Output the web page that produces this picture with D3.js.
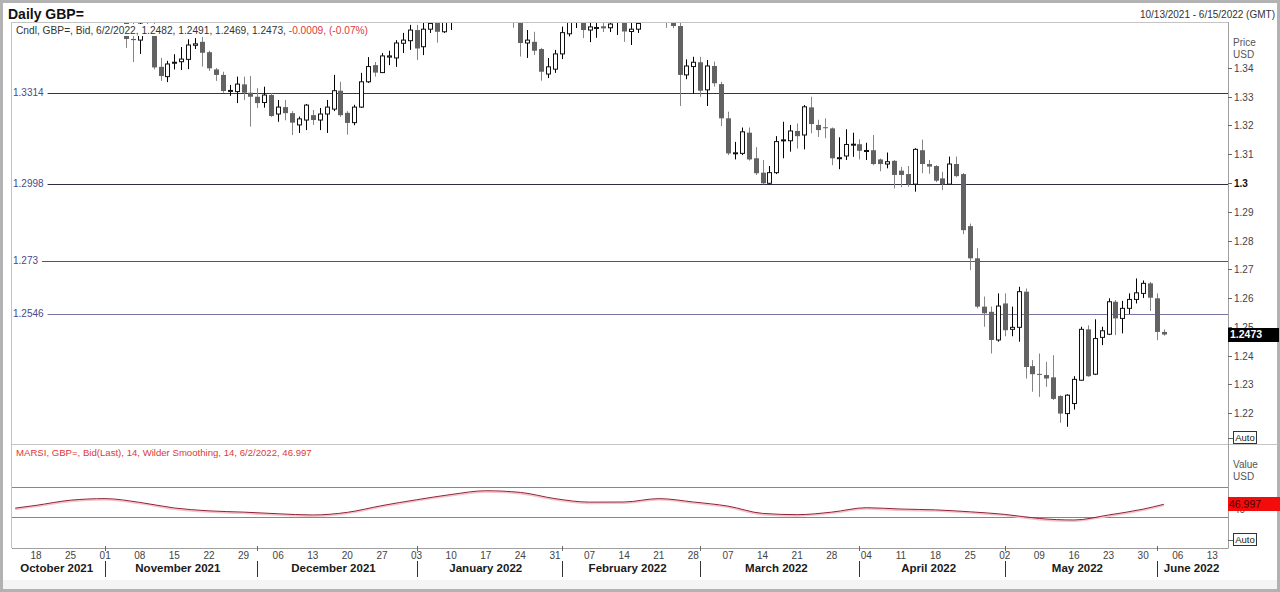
<!DOCTYPE html>
<html>
<head>
<meta charset="utf-8">
<script src="https://cdn.jsdelivr.net/npm/d3@7"></script>
<style>
  body { margin: 0; background: #fff; }
  svg { display: block; font-family: "Liberation Sans", Arial, sans-serif; }
</style>
</head>
<body>
<div id="chart"></div>
<script>
// daily candles, GBP= bid
const dates = [
  "2021-11-04","2021-11-05","2021-11-08","2021-11-09","2021-11-10","2021-11-11","2021-11-12",
  "2021-11-15","2021-11-16","2021-11-17","2021-11-18","2021-11-19","2021-11-22","2021-11-23",
  "2021-11-24","2021-11-25","2021-11-26","2021-11-29","2021-11-30",
  "2021-12-01","2021-12-02","2021-12-03","2021-12-06","2021-12-07","2021-12-08","2021-12-09",
  "2021-12-10","2021-12-13","2021-12-14","2021-12-15","2021-12-16","2021-12-17","2021-12-20",
  "2021-12-21","2021-12-22","2021-12-23","2021-12-24","2021-12-27","2021-12-28","2021-12-29",
  "2021-12-30","2021-12-31",
  "2022-01-03","2022-01-04","2022-01-05","2022-01-06","2022-01-07","2022-01-10","2022-01-11",
  "2022-01-12","2022-01-13","2022-01-14","2022-01-17","2022-01-18","2022-01-19","2022-01-20",
  "2022-01-21","2022-01-24","2022-01-25","2022-01-26","2022-01-27","2022-01-28","2022-01-31",
  "2022-02-01","2022-02-02","2022-02-03","2022-02-04","2022-02-07","2022-02-08","2022-02-09",
  "2022-02-10","2022-02-11","2022-02-14","2022-02-15","2022-02-16","2022-02-17","2022-02-18",
  "2022-02-21","2022-02-22","2022-02-23","2022-02-24","2022-02-25","2022-02-28",
  "2022-03-01","2022-03-02","2022-03-03","2022-03-04","2022-03-07","2022-03-08","2022-03-09",
  "2022-03-10","2022-03-11","2022-03-14","2022-03-15","2022-03-16","2022-03-17","2022-03-18",
  "2022-03-21","2022-03-22","2022-03-23","2022-03-24","2022-03-25","2022-03-28","2022-03-29",
  "2022-03-30","2022-03-31",
  "2022-04-01","2022-04-04","2022-04-05","2022-04-06","2022-04-07","2022-04-08","2022-04-11",
  "2022-04-12","2022-04-13","2022-04-14","2022-04-15","2022-04-18","2022-04-19","2022-04-20",
  "2022-04-21","2022-04-22","2022-04-25","2022-04-26","2022-04-27","2022-04-28","2022-04-29",
  "2022-05-02","2022-05-03","2022-05-04","2022-05-05","2022-05-06","2022-05-09","2022-05-10",
  "2022-05-11","2022-05-12","2022-05-13","2022-05-16","2022-05-17","2022-05-18","2022-05-19",
  "2022-05-20","2022-05-23","2022-05-24","2022-05-25","2022-05-26","2022-05-27","2022-05-30",
  "2022-05-31","2022-06-01","2022-06-02"
];
const opens = [
  1.3660,1.3501,1.3497,1.3553,1.3548,1.3404,1.3370,1.3418,1.3422,1.3430,1.3479,1.3491,1.3455,1.3395,
  1.3376,1.3321,1.3318,1.3343,1.3314,
  1.3300,1.3280,1.3306,1.3240,1.3264,1.3243,1.3202,1.3219,1.3236,1.3219,1.3240,1.3257,1.3321,1.3244,
  1.3210,1.3264,1.3352,1.3410,1.3384,1.3438,1.3435,1.3486,1.3495,
  1.3532,1.3474,1.3535,1.3560,1.3526,1.3590,1.3598,1.3632,1.3710,1.3715,1.3680,1.3645,1.3612,1.3620,
  1.3600,1.3560,1.3487,1.3491,1.3466,1.3379,1.3396,
  1.3449,1.3519,1.3570,1.3595,1.3532,1.3540,1.3545,1.3540,1.3560,1.3560,1.3527,1.3535,1.3580,1.3615,
  1.3590,1.3595,1.3560,1.3546,1.3376,1.3405,
  1.3420,1.3324,1.3407,1.3344,1.3225,1.3103,1.3103,1.3175,1.3086,1.3036,1.2999,1.3036,1.3148,1.3147,
  1.3181,1.3167,1.3263,1.3202,1.3194,1.3190,1.3086,1.3094,1.3134,
  1.3135,1.3112,1.3114,1.3082,1.3066,1.3077,1.3043,1.3031,1.2996,1.3114,1.3066,1.3059,1.3016,1.2996,
  1.3066,1.3031,1.2850,1.2738,1.2570,1.2552,1.2454,
  1.2581,1.2491,1.2498,1.2622,1.2363,1.2336,1.2332,1.2324,1.2259,1.2198,1.2233,1.2314,1.2491,1.2335,
  1.2463,1.2474,1.2587,1.2529,1.2564,1.2595,1.2616,1.2651,1.2599,1.2482
];
const highs = [
  1.3690,1.3560,1.3575,1.3605,1.3570,1.3435,1.3425,1.3448,1.3473,1.3500,1.3504,1.3508,1.3460,1.3400,
  1.3387,1.3341,1.3370,1.3370,1.3372,
  1.3330,1.3335,1.3312,1.3289,1.3289,1.3250,1.3231,1.3275,1.3254,1.3261,1.3289,1.3376,1.3352,1.3250,
  1.3272,1.3383,1.3438,1.3421,1.3452,1.3460,1.3497,1.3522,1.3550,
  1.3550,1.3570,1.3580,1.3580,1.3600,1.3620,1.3640,1.3715,1.3748,1.3720,1.3690,1.3660,1.3640,1.3630,
  1.3615,1.3580,1.3532,1.3526,1.3470,1.3435,1.3463,
  1.3544,1.3580,1.3630,1.3620,1.3570,1.3565,1.3560,1.3580,1.3590,1.3575,1.3565,1.3590,1.3640,1.3630,
  1.3640,1.3610,1.3600,1.3560,1.3430,1.3439,
  1.3439,1.3428,1.3422,1.3352,1.3248,1.3143,1.3193,1.3193,1.3125,1.3080,1.3059,1.3163,1.3213,1.3202,
  1.3207,1.3271,1.3300,1.3220,1.3225,1.3193,1.3159,1.3187,1.3175,
  1.3152,1.3140,1.3167,1.3085,1.3106,1.3080,1.3056,1.3059,1.3121,1.3151,1.3080,1.3062,1.3039,1.3092,
  1.3092,1.3035,1.2859,1.2773,1.2605,1.2570,1.2616,
  1.2616,1.2570,1.2639,1.2633,1.2384,1.2407,1.2378,1.2401,1.2262,1.2265,1.2328,1.2500,1.2505,1.2526,
  1.2500,1.2599,1.2593,1.2590,1.2616,1.2668,1.2661,1.2656,1.2616,1.2491
];
const lows = [
  1.3470,1.3421,1.3449,1.3515,1.3395,1.3355,1.3351,1.3395,1.3393,1.3396,1.3466,1.3405,1.3390,1.3355,
  1.3314,1.3303,1.3278,1.3289,1.3196,
  1.3261,1.3262,1.3230,1.3213,1.3218,1.3167,1.3174,1.3184,1.3202,1.3184,1.3174,1.3250,1.3230,1.3168,
  1.3201,1.3261,1.3348,1.3370,1.3383,1.3410,1.3404,1.3452,1.3463,
  1.3428,1.3445,1.3522,1.3488,1.3522,1.3532,1.3570,1.3620,1.3690,1.3660,1.3630,1.3590,1.3590,1.3580,
  1.3540,1.3440,1.3435,1.3445,1.3356,1.3365,1.3383,
  1.3431,1.3510,1.3539,1.3504,1.3490,1.3505,1.3525,1.3525,1.3515,1.3491,1.3480,1.3522,1.3570,1.3575,
  1.3570,1.3540,1.3538,1.3268,1.3361,1.3310,
  1.3300,1.3268,1.3335,1.3198,1.3097,1.3082,1.3097,1.3078,1.3028,1.2995,1.2995,1.3031,1.3086,1.3109,
  1.3120,1.3117,1.3173,1.3160,1.3156,1.3062,1.3048,1.3080,1.3091,
  1.3082,1.3080,1.3062,1.3041,1.3051,1.2981,1.2985,1.2987,1.2970,1.3034,1.3032,1.3003,1.2975,1.2993,
  1.3020,1.2822,1.2697,1.2564,1.2500,1.2407,1.2448,
  1.2467,1.2467,1.2448,1.2320,1.2274,1.2256,1.2291,1.2245,1.2166,1.2152,1.2212,1.2313,1.2326,1.2332,
  1.2436,1.2471,1.2471,1.2477,1.2544,1.2581,1.2600,1.2555,1.2453,1.2469
];
const closes = [
  1.3501,1.3497,1.3553,1.3548,1.3402,1.3372,1.3414,1.3420,1.3431,1.3480,1.3484,1.3453,1.3399,1.3376,
  1.3320,1.3322,1.3344,1.3314,1.3300,
  1.3278,1.3306,1.3233,1.3264,1.3243,1.3210,1.3223,1.3271,1.3219,1.3240,1.3264,1.3321,1.3236,1.3209,
  1.3264,1.3352,1.3405,1.3384,1.3442,1.3442,1.3487,1.3497,1.3532,
  1.3468,1.3535,1.3555,1.3526,1.3590,1.3598,1.3632,1.3710,1.3715,1.3680,1.3645,1.3612,1.3620,1.3600,
  1.3560,1.3487,1.3497,1.3460,1.3387,1.3404,1.3449,
  1.3523,1.3570,1.3595,1.3532,1.3543,1.3541,1.3538,1.3553,1.3565,1.3527,1.3535,1.3555,1.3615,1.3590,
  1.3595,1.3575,1.3546,1.3376,1.3407,1.3420,
  1.3321,1.3407,1.3347,1.3225,1.3103,1.3105,1.3178,1.3082,1.3034,1.2999,1.3036,1.3144,1.3150,1.3181,
  1.3163,1.3265,1.3205,1.3184,1.3192,1.3086,1.3088,1.3134,1.3135,
  1.3112,1.3113,1.3066,1.3066,1.3074,1.3028,1.3028,1.2996,1.3117,1.3066,1.3057,1.3008,1.2996,1.3066,
  1.3024,1.2836,1.2738,1.2570,1.2547,1.2454,1.2572,
  1.2488,1.2498,1.2622,1.2360,1.2335,1.2335,1.2320,1.2249,1.2198,1.2262,1.2317,1.2491,1.2328,1.2459,
  1.2486,1.2587,1.2529,1.2564,1.2595,1.2618,1.2651,1.2601,1.2482,1.2473
];

// MARSI (14, Wilder smoothing), weekly readings
const rsiDates = [
  "2021-10-13","2021-10-18","2021-10-25","2021-11-01","2021-11-08","2021-11-15","2021-11-22",
  "2021-11-29","2021-12-06","2021-12-13","2021-12-20","2021-12-27","2022-01-03","2022-01-10",
  "2022-01-17","2022-01-24","2022-01-31","2022-02-07","2022-02-14","2022-02-21","2022-02-28",
  "2022-03-07","2022-03-14","2022-03-21","2022-03-28","2022-04-04","2022-04-11","2022-04-18",
  "2022-04-25","2022-05-02","2022-05-09","2022-05-16","2022-05-23","2022-05-30","2022-06-02"
];
const rsiValues = [
  41.8,45.5,52.4,54.5,49.5,42.0,38.2,36.5,34.3,32.7,36.2,45.2,53.0,60.0,65.0,62.8,54.5,49.8,
  50.0,54.5,50.0,44.5,34.8,33.1,36.5,42.4,40.6,39.5,36.9,33.5,28.0,26.0,32.7,40.5,46.997
];

const levels = [1.3314, 1.2998, 1.273, 1.2546];
const levelColors = ["#34344e", "#2c2c44", "#54546e", "#7676a0"];
const priceTicks = [1.22, 1.23, 1.24, 1.25, 1.26, 1.27, 1.28, 1.29, 1.3, 1.31, 1.32, 1.33, 1.34];
const monthNames = ["October 2021", "November 2021", "December 2021", "January 2022", "February 2022",
  "March 2022", "April 2022", "May 2022", "June 2022"];

const width = 1280, height = 592;
const plotLeft = 12, plotRight = 1228;
const priceTop = 23, priceBottom = 445, rsiBottom = 548;

const svg = d3.select("#chart")
  .append("svg")
    .attr("width", width)
    .attr("height", height);

const fmtDay = d3.timeFormat("%Y-%m-%d");
const calendar = d3.timeDay.range(new Date(2021, 9, 13), new Date(2022, 5, 16))
  .filter(d => d.getDay() !== 0 && d.getDay() !== 6);

const x = d3.scalePoint()
  .domain(calendar.map(fmtDay))
  .range([15.2, 1226.2]);

const y = d3.scaleLinear()
  .domain([1.22, 1.34])
  .range([413, 68]);

const rsiY = d3.scaleLinear()
  .domain([30, 70])
  .range([517, 487]);

// outer frame and panel borders
svg.append("rect")
  .attr("x", 1.5).attr("y", 1.5)
  .attr("width", width - 3).attr("height", height - 3)
  .attr("fill", "none").attr("stroke", "#b2b2b2").attr("stroke-width", 3);
svg.append("rect")
  .attr("x", 3).attr("y", 580)
  .attr("width", width - 6).attr("height", 9)
  .attr("fill", "#f4f4f4");

const frame = [
  [plotLeft, priceTop - 0.5, plotRight, priceTop - 0.5, "#c4c4c4"],
  [plotLeft - 0.5, priceTop - 1, plotLeft - 0.5, rsiBottom, "#c4c4c4"],
  [plotLeft, priceBottom - 0.5, width - 2, priceBottom - 0.5, "#c4c4c4"],
  [plotLeft, rsiBottom + 0.5, plotRight, rsiBottom + 0.5, "#a0a0a0"],
  [plotRight + 0.5, priceTop - 1, plotRight + 0.5, rsiBottom + 0.5, "#a0a0a0"]
];
svg.selectAll(".frame")
  .data(frame)
  .join("line")
    .attr("class", "frame")
    .attr("x1", d => d[0]).attr("y1", d => d[1])
    .attr("x2", d => d[2]).attr("y2", d => d[3])
    .attr("stroke", d => d[4]);

svg.append("text")
  .attr("x", 8).attr("y", 19)
  .style("font-size", "14px").style("font-weight", "bold")
  .attr("fill", "#111")
  .text("Daily GBP=");
svg.append("text")
  .attr("x", 1275).attr("y", 18)
  .style("font-size", "10px").style("text-anchor", "end")
  .attr("fill", "#333")
  .text("10/13/2021 - 6/15/2022 (GMT)");

svg.append("clipPath").attr("id", "price-clip")
  .append("rect")
    .attr("x", plotLeft).attr("y", priceTop)
    .attr("width", plotRight - plotLeft).attr("height", priceBottom - priceTop - 1);

const gPrice = svg.append("g").attr("clip-path", "url(#price-clip)");

// horizontal levels
const levelGroups = gPrice.selectAll(".level")
  .data(levels)
  .join("g")
    .attr("class", "level");
levelGroups.append("text")
  .attr("x", 13)
  .attr("y", d => y(d))
  .attr("dy", "0.35em")
  .style("font-size", "10px")
  .attr("fill", "#4a4a8c")
  .text(d => String(d));
levelGroups.append("line")
  .attr("x1", function() { return 13 + this.parentNode.querySelector("text").getComputedTextLength() + 4; })
  .attr("x2", plotRight)
  .attr("y1", d => Math.round(y(d)) + 0.5)
  .attr("y2", d => Math.round(y(d)) + 0.5)
  .attr("stroke", (d, i) => levelColors[i]);

// candles
const candles = dates.map((d, i) => ({
  date: d, open: opens[i], high: highs[i], low: lows[i], close: closes[i],
  up: closes[i] >= opens[i]
}));

gPrice.selectAll(".wick")
  .data(candles)
  .join("line")
    .attr("class", "wick")
    .attr("x1", d => Math.round(x(d.date)) + 0.5)
    .attr("x2", d => Math.round(x(d.date)) + 0.5)
    .attr("y1", d => y(d.high))
    .attr("y2", d => y(d.low))
    .attr("stroke", d => d.up ? "#000" : "#858585");

gPrice.selectAll(".body")
  .data(candles)
  .join("rect")
    .attr("class", "body")
    .attr("x", d => Math.round(x(d.date)) - 2 + (d.up ? 0.5 : 0))
    .attr("width", d => d.up ? 4 : 5)
    .attr("y", d => y(Math.max(d.open, d.close)))
    .attr("height", d => Math.max(1, Math.abs(y(d.open) - y(d.close))))
    .attr("fill", d => d.up ? "#fff" : "#626262")
    .attr("stroke", d => d.up ? "#111" : "none");

// legend line of the price panel
const priceLegend = svg.append("g");
priceLegend.append("rect")
  .attr("x", 13).attr("y", 24)
  .attr("width", 360).attr("height", 12)
  .attr("fill", "#fff");
const legendText = priceLegend.append("text")
  .attr("x", 16).attr("y", 34)
  .style("font-size", "10.2px")
  .attr("fill", "#333");
legendText.append("tspan").text("Cndl, GBP=, Bid, 6/2/2022, 1.2482, 1.2491, 1.2469, 1.2473, ");
legendText.append("tspan").attr("fill", "#e0383c").text("-0.0009, (-0.07%)");

// price axis
const priceAxis = svg.selectAll(".price-tick")
  .data(priceTicks)
  .join("g")
    .attr("class", "price-tick")
    .attr("transform", d => "translate(" + plotRight + "," + (Math.round(y(d)) + 0.5) + ")");
priceAxis.append("line")
  .attr("x1", 0).attr("x2", 4)
  .attr("stroke", "#666");
priceAxis.append("text")
  .attr("x", 6).attr("dy", "0.35em")
  .style("font-size", "10px")
  .style("font-weight", d => d === 1.3 ? "bold" : "normal")
  .attr("fill", d => d === 1.3 ? "#111" : "#444")
  .text(d => String(+d.toFixed(2)));

svg.append("text").attr("x", 1233).attr("y", 46)
  .style("font-size", "10px").attr("fill", "#555").text("Price");
svg.append("text").attr("x", 1233).attr("y", 58)
  .style("font-size", "10px").attr("fill", "#555").text("USD");

const last = candles[candles.length - 1];
svg.append("rect")
  .attr("x", plotRight).attr("y", Math.round(y(last.close)) - 7)
  .attr("width", 51).attr("height", 14)
  .attr("fill", "#000");
svg.append("text")
  .attr("x", plotRight + 2).attr("y", y(last.close)).attr("dy", "0.36em")
  .style("font-size", "10.5px").style("font-weight", "bold")
  .attr("fill", "#fff")
  .text(last.close.toFixed(4));

const autoBoxes = [438, 540];
autoBoxes.forEach(cy => {
  svg.append("line")
    .attr("x1", plotRight).attr("x2", plotRight + 5)
    .attr("y1", cy + 0.5).attr("y2", cy + 0.5)
    .attr("stroke", "#666");
  svg.append("rect")
    .attr("x", 1233.5).attr("y", cy - 6.5)
    .attr("width", 23).attr("height", 12)
    .attr("fill", "#fff").attr("stroke", "#333");
  svg.append("text")
    .attr("x", 1245).attr("y", cy).attr("dy", "0.35em")
    .style("font-size", "9.5px").style("text-anchor", "middle")
    .attr("fill", "#222")
    .text("Auto");
});

// RSI panel
svg.append("text")
  .attr("x", 16).attr("y", 456)
  .style("font-size", "9.6px")
  .attr("fill", "#e0383c")
  .text("MARSI, GBP=, Bid(Last),  14, Wilder Smoothing, 14, 6/2/2022, 46.997");

svg.selectAll(".rsi-band")
  .data([30, 70])
  .join("line")
    .attr("class", "rsi-band")
    .attr("x1", plotLeft).attr("x2", plotRight)
    .attr("y1", d => Math.round(rsiY(d)) + 0.5)
    .attr("y2", d => Math.round(rsiY(d)) + 0.5)
    .attr("stroke", "#ec5c5c");

const rsiLine = d3.line()
  .x(d => x(d.date))
  .y(d => rsiY(d.value))
  .curve(d3.curveMonotoneX);
const rsiData = rsiDates.map((d, i) => ({date: d, value: rsiValues[i]}));

svg.append("path")
  .datum(rsiData)
  .attr("fill", "none")
  .attr("stroke", "#f4c2c7")
  .attr("stroke-width", 1.6)
  .attr("transform", "translate(0,1.2)")
  .attr("d", rsiLine);
svg.append("path")
  .datum(rsiData)
  .attr("fill", "none")
  .attr("stroke", "#8e2236")
  .attr("stroke-width", 1)
  .attr("d", rsiLine);

svg.append("text").attr("x", 1233).attr("y", 468)
  .style("font-size", "10px").attr("fill", "#555").text("Value");
svg.append("text").attr("x", 1233).attr("y", 480)
  .style("font-size", "10px").attr("fill", "#555").text("USD");

svg.append("line")
  .attr("x1", plotRight).attr("x2", plotRight + 4)
  .attr("y1", Math.round(rsiY(40)) + 0.5).attr("y2", Math.round(rsiY(40)) + 0.5)
  .attr("stroke", "#666");
svg.append("text")
  .attr("x", plotRight + 6).attr("y", rsiY(40)).attr("dy", "0.35em")
  .style("font-size", "10px").attr("fill", "#444")
  .text("40");

const lastRsi = rsiValues[rsiValues.length - 1];
svg.append("rect")
  .attr("x", plotRight).attr("y", Math.round(rsiY(lastRsi)) - 7)
  .attr("width", 52).attr("height", 14)
  .attr("fill", "#f40c0c");
svg.append("text")
  .attr("x", plotRight + 1).attr("y", rsiY(lastRsi)).attr("dy", "0.36em")
  .style("font-size", "10.5px")
  .attr("fill", "#4a0000")
  .text(lastRsi.toFixed(3));

// time axis
const mondays = calendar.filter(d => d.getDay() === 1 && d > new Date(2021, 9, 15));
svg.selectAll(".day-label")
  .data(mondays)
  .join("text")
    .attr("class", "day-label")
    .attr("x", d => x(fmtDay(d)))
    .attr("y", 559)
    .style("font-size", "10px")
    .style("text-anchor", "middle")
    .attr("fill", "#444")
    .text(d3.timeFormat("%d"));

const months = d3.groups(calendar, d => d.getFullYear() * 12 + d.getMonth());
svg.selectAll(".month-label")
  .data(months)
  .join("text")
    .attr("class", "month-label")
    .attr("x", d => (x(fmtDay(d[1][0])) + x(fmtDay(d[1][d[1].length - 1]))) / 2)
    .attr("y", 572)
    .style("font-size", "11.5px")
    .style("font-weight", "bold")
    .style("text-anchor", "middle")
    .attr("fill", "#1a1a1a")
    .text((d, i) => monthNames[i]);

const separators = months.slice(1).map(d => Math.round(x(fmtDay(d[1][0]))) + 0.5);
svg.selectAll(".month-sep")
  .data(separators)
  .join("line")
    .attr("class", "month-sep")
    .attr("x1", d => d).attr("x2", d => d)
    .attr("y1", 561).attr("y2", 577)
    .attr("stroke", "#333");
svg.selectAll(".month-tick")
  .data(separators)
  .join("line")
    .attr("class", "month-tick")
    .attr("x1", d => d).attr("x2", d => d)
    .attr("y1", rsiBottom - 2).attr("y2", rsiBottom + 3)
    .attr("stroke", "#666");
</script>
</body>
</html>
